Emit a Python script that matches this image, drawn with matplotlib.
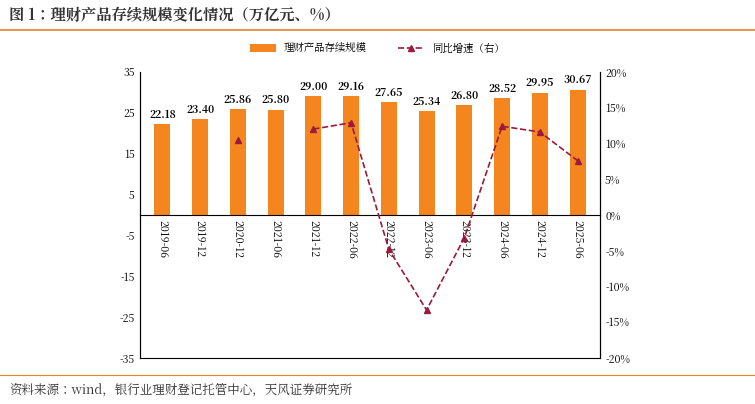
import numpy as np
import matplotlib.pyplot as plt
from matplotlib import font_manager

# find an installed CJK family
cjk = [f.name for f in font_manager.fontManager.ttflist if 'CJK' in f.name]
if not cjk:
    import glob
    for p in glob.glob('/usr/share/fonts/**/*CJK*', recursive=True):
        try:
            font_manager.fontManager.addfont(p)
        except Exception:
            pass
    cjk = [f.name for f in font_manager.fontManager.ttflist if 'CJK' in f.name]
plt.rcParams['font.family'] = 'sans-serif'
plt.rcParams['font.sans-serif'] = (['Noto Sans CJK SC'] if 'Noto Sans CJK SC' in cjk else cjk[:1]) + ['DejaVu Sans']
plt.rcParams['axes.unicode_minus'] = False

# 数据
periods = ['2019-06', '2019-12', '2020-12', '2021-06', '2021-12', '2022-06',
           '2022-12', '2023-06', '2023-12', '2024-06', '2024-12', '2025-06']
scale = [22.18, 23.40, 25.86, 25.80, 29.00, 29.16, 27.65, 25.34, 26.80, 28.52, 29.95, 30.67]
yoy = [np.nan, np.nan, 10.5, np.nan, 12.0, 12.9, -4.8, -13.3, -3.2, 12.4, 11.6, 7.6]
left_ticks = [35, 25, 15, 5, -5, -15, -25, -35]
right_ticks = [20, 15, 10, 5, 0, -5, -10, -15, -20]

bar_color = '#F5851F'
line_color = '#9A1B3C'

fig = plt.figure(figsize=(7.55, 4.04), dpi=100)
fig.text(0.012, 0.962, '图 1：理财产品存续规模变化情况（万亿元、%）', fontsize=11,
         fontweight='bold', color='#333333', va='center')
fig.add_artist(plt.Line2D([0.0, 1.0], [0.925, 0.925], color='#E8822A', lw=1.2))
fig.add_artist(plt.Line2D([0.0, 1.0], [0.072, 0.072], color='#E8822A', lw=0.8))
fig.text(0.012, 0.035, '资料来源：wind，银行业理财登记托管中心，天风证券研究所', fontsize=9,
         color='#333333', va='center')

ax = fig.add_axes([0.185, 0.114, 0.61, 0.708])
x = np.arange(len(periods))
ax.bar(x, scale, width=0.42, color=bar_color, label='理财产品存续规模')
for xi, v in zip(x, scale):
    ax.text(xi, v + 0.8, '%.2f' % v, ha='center', va='bottom', fontsize=7.5, fontweight='bold')
ax.set_ylim(-35, 35)
ax.set_yticks(left_ticks)
ax.set_xlim(-0.6, len(periods) - 0.4)
ax.spines['bottom'].set_position(('data', 0))
ax.spines['top'].set_visible(False)
ax.set_xticks(x)
ax.set_xticklabels(periods, rotation=-90, fontsize=7.5)
ax.tick_params(axis='x', length=0, pad=4)
ax.tick_params(axis='y', labelsize=7.5, length=0)

ax2 = ax.twinx()
ax2.plot(x, yoy, linestyle='--', color=line_color, marker='^', markersize=5, lw=1.2,
         label='同比增速（右）')
ax2.set_ylim(-20, 20)
ax2.set_yticks(right_ticks)
ax2.set_yticklabels(['%d%%' % t for t in right_ticks])
ax2.tick_params(axis='y', labelsize=7.5, length=0)
ax2.spines['top'].set_visible(False)

h1, l1 = ax.get_legend_handles_labels()
h2, l2 = ax2.get_legend_handles_labels()
fig.legend(h1 + h2, l1 + l2, loc='center', bbox_to_anchor=(0.5, 0.88), ncol=2,
           frameon=False, fontsize=7.5, handlelength=2.5, columnspacing=3)

fig.savefig('out.png', dpi=100)
